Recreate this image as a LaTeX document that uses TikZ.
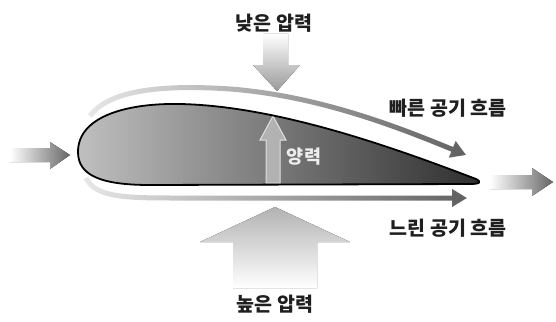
\documentclass[tikz,border=0pt]{standalone}
\usepackage{fontspec}
\newfontfamily\kr{Noto Sans CJK KR}
\usetikzlibrary{arrows.meta,fadings}

% opacity ramp used for the airflow streams
\tikzfading[name=flowfade, left color=transparent!85, middle color=transparent!25, right color=transparent!0]

\tikzset{
  label/.style={font=\kr\bfseries\fontsize{19.5}{23}\selectfont, text=black!88, inner sep=0pt},
  flow/.style={line width=5pt, draw=black!62, path fading=flowfade,
    -{Triangle[length=15pt,width=17pt]}},
  foil/.style={left color=black!25, right color=black!82},
  foiledge/.style={draw=black, line width=1.8pt, line join=round},
  liftarrow/.style={fill=black!30, draw=black!12, line width=1pt},
}

\begin{document}
\begin{tikzpicture}[x=1pt,y=-1pt]
\useasboundingbox[fill=white] (0,0) rectangle (556,321);

% low-pressure arrow pushing down
\fill[top color=white, middle color=black!22, bottom color=black!40]
  (263,34) -- (288,34) -- (288,65) -- (300,65) -- (277,91) -- (253,65) -- (263,65) -- cycle;

% high-pressure arrow pushing up
\fill[top color=black!30, middle color=black!16, bottom color=white]
  (275,207) -- (350,242) -- (317,242) -- (317,288) -- (233,288) -- (233,242) -- (200,242) -- cycle;

% oncoming and outgoing air
\fill[left color=white, right color=black!60]
  (10,148) -- (50,148) -- (50,142) -- (70,155) -- (50,169) -- (50,162) -- (10,162) -- cycle;
\fill[left color=white, right color=black!60]
  (490,175) -- (532,175) -- (532,168) -- (553,182) -- (532,196) -- (532,189) -- (490,189) -- cycle;

% wing section
\path[foil] (78,152) .. controls (78,115) and (130,103) .. (180,104)
  .. controls (280,106) and (400,150) .. (476,179)
  .. controls (482,182) and (480,184) .. (470,184)
  -- (150,185) .. controls (100,185) and (78,175) .. (78,152) -- cycle;

% lift arrow inside the wing
\draw[liftarrow] (266,183) -- (266,140) -- (260,140) -- (273,116) -- (286,140) -- (280,140) -- (280,183) -- cycle;

\draw[foiledge] (78,152) .. controls (78,115) and (130,103) .. (180,104)
  .. controls (280,106) and (400,150) .. (476,179)
  .. controls (482,182) and (480,184) .. (470,184)
  -- (150,185) .. controls (100,185) and (78,175) .. (78,152) -- cycle;

% air streams over and under the wing
\coordinate (upstart) at (90,116);
\coordinate (upend) at (466,155);
\coordinate (lowstart) at (86,178);
\coordinate (lowend) at (467,198);
\draw[flow] (upstart) .. controls (110,88) and (170,85) .. (230,89)
  .. controls (320,96) and (400,128) .. (upend);
\draw[flow] (lowstart) .. controls (95,196) and (120,198) .. (170,198) -- (lowend);

% labels
\node[label] (low) at (274,23) {낮은 압력};
\node[label] (high) at (275,304) {높은 압력};
\node[label] (fast) at (448,108) {빠른 공기 흐름};
\node[label] (slow) at (448,228) {느린 공기 흐름};
\node[label, text=black!7, font=\kr\bfseries\fontsize{18.5}{22}\selectfont] (lift) at (304,157) {양력};
\end{tikzpicture}
\end{document}
